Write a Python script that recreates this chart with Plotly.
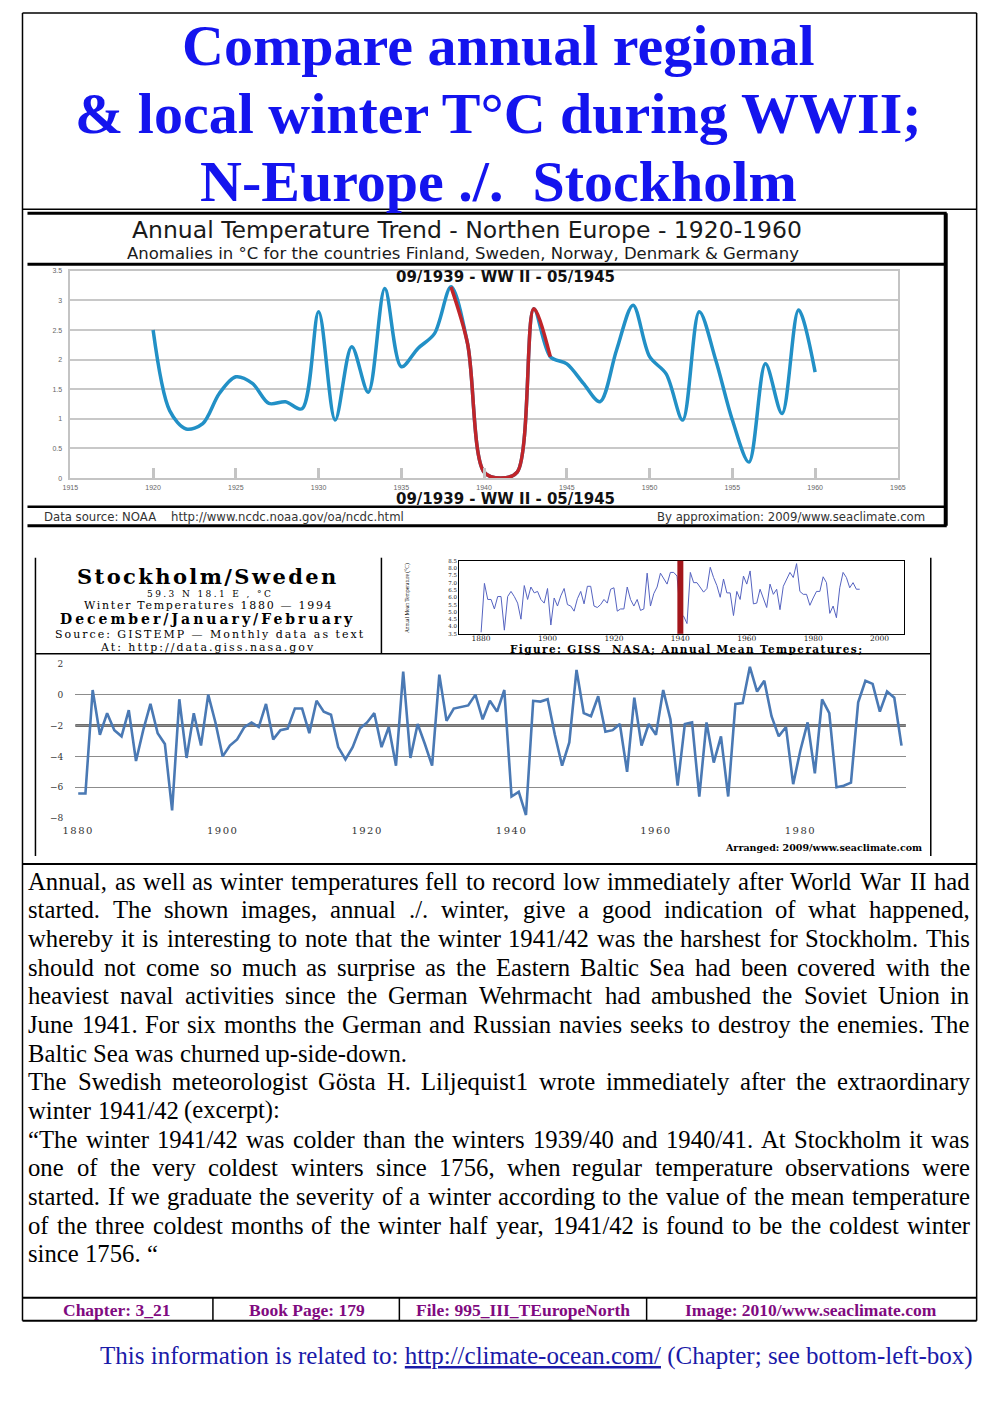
import plotly.graph_objects as go

# ---------------- data ----------------
ne_years = list(range(1920, 1961))
ne_anomaly = [2.50, 1.14, 0.83, 0.92, 1.43, 1.71, 1.60, 1.26, 1.29, 1.17,
              2.81, 0.98, 2.22, 1.45, 3.20, 1.88, 2.19, 2.44, 3.23, 2.27,
              0.10, 0.00, 0.10, 2.86, 2.05, 1.93, 1.60, 1.29, 2.16, 2.92,
              2.05, 1.76, 0.98, 2.81, 1.99, 0.98, 0.27, 1.93, 1.09, 2.84,
              1.79]
ww2_from, ww2_to = 1938, 1944
ne_xticks = list(range(1915, 1970, 5))
ne_yticks = [0, 0.5, 1, 1.5, 2, 2.5, 3, 3.5]
ne_ylabels = ["0", "0.5", "1", "1.5", "2", "2.5", "3", "3.5"]

giss_years = list(range(1880, 1995))
giss_annual = [3.6, 6.95, 5.85, 5.85, 5.2, 6.05, 6.05, 3.75, 6.05, 6.4,
               6.05, 5.6, 4.5, 6.8, 5.85, 6.7, 6.3, 6.4, 5.85, 5.6,
               6.6, 4.1, 5.95, 5.4, 6.1, 6.6, 5.5, 5.4, 5.05, 5.9,
               6.4, 5.55, 6.75, 6.75, 5.4, 5.3, 5.5, 5.85, 5.6, 6.55,
               6.65, 5.05, 5.2, 5.2, 6.7, 5.85, 5.4, 5.85, 5.1, 5.2,
               7.65, 5.4, 6.25, 6.7, 7.65, 7.25, 6.9, 7.7, 7.7, 7.45,
               4.8, 4.7, 4.2, 7.7, 7.0, 7.0, 6.65, 6.35, 6.6, 8.05,
               7.35, 6.8, 6.0, 7.25, 6.3, 6.3, 4.75, 6.4, 5.85, 7.45,
               6.9, 7.8, 5.55, 5.6, 6.55, 5.95, 5.3, 6.9, 6.2, 6.55,
               5.15, 6.75, 7.25, 7.7, 7.35, 8.3, 6.4, 6.2, 6.2, 5.45,
               5.95, 6.4, 6.4, 7.4, 7.0, 4.9, 5.4, 4.6, 6.65, 7.7,
               7.35, 6.65, 7.0, 6.55, 6.55]
giss_mark_year = 1940
giss_xticks = [1880, 1900, 1920, 1940, 1960, 1980, 2000]
giss_yticks = [3.5, 4.0, 4.5, 5.0, 5.5, 6.0, 6.5, 7.0, 7.5, 8.0, 8.5]

winter_years = list(range(1880, 1995))
winter_temp = [-6.4, -6.4, 0.3, -2.6, -1.2, -2.3, -2.7, -1.0, -4.3, -2.3,
               -0.6, -2.5, -3.2, -7.5, -0.3, -4.1, -1.2, -3.3, 0.0, -1.8,
               -4.0, -3.3, -2.9, -2.1, -1.8, -2.1, -0.6, -2.9, -2.3, -2.2,
               -0.9, -0.9, -2.5, -0.4, -1.1, -1.3, -3.4, -4.2, -3.4, -2.2,
               -1.8, -1.2, -3.4, -2.1, -4.6, 1.5, -4.1, -1.9, -3.2, -4.6,
               1.3, -1.7, -0.9, -0.8, -0.7, 0.0, -1.6, -0.4, -1.1, 0.3,
               -6.6, -6.3, -7.8, -0.4, -0.45, -0.3, -2.6, -4.6, -3.1, 1.6,
               -1.2, -1.4, -0.1, -2.4, -2.3, -1.9, -5.0, -0.2, -3.3, -1.9,
               -2.6, 0.3, -1.6, -5.9, -1.9, -1.8, -6.6, -1.8, -4.4, -2.7,
               -6.6, -0.6, -0.55, 1.8, 0.2, 0.9, -1.4, -2.7, -2.1, -5.8,
               -3.6, -1.8, -5.1, -0.3, -1.2, -6.0, -5.9, -5.7, -0.5, 0.9,
               0.7, -1.1, 0.2, -0.2, -3.3]
winter_mean_line = -2
winter_xticks = [1880, 1900, 1920, 1940, 1960, 1980]
winter_yticks = [2, 0, -2, -4, -6, -8]

title_lines = ["Compare annual regional",
               "& local winter T°C during WWII;",
               "N-Europe ./.\u00a0 Stockholm"]

paragraph = [
    ("Annual, as well as winter temperatures fell to record low immediately after World War II had", True),
    ("started. The shown images, annual ./. winter, give a good indication of what happened,", True),
    ("whereby it is interesting to note that the winter 1941/42 was the harshest for Stockholm. This", True),
    ("should not come so much as surprise as the Eastern Baltic Sea had been covered with the", True),
    ("heaviest naval activities since the German Wehrmacht had ambushed the Soviet Union in", True),
    ("June 1941. For six months the German and Russian navies seeks to destroy the enemies. The", True),
    ("Baltic Sea was churned up-side-down.", False),
    ("The Swedish meteorologist Gösta H. Liljequist1 wrote immediately after the extraordinary", True),
    ("winter 1941/42 (excerpt):", False),
    ("“The winter 1941/42 was colder than the winters 1939/40 and 1940/41. At Stockholm it was", True),
    ("one of the very coldest winters since 1756, when regular temperature observations were", True),
    ("started. If we graduate the severity of a winter according to the value of the mean temperature", True),
    ("of the three coldest months of the winter half year, 1941/42 is found to be the coldest winter", True),
    ("since 1756. “", False),
]

footer_cells = ["Chapter: 3_21", "Book Page: 179", "File: 995_III_TEuropeNorth",
                "Image: 2010/www.seaclimate.com"]

# ---------------- helpers ----------------
W, H = 1003, 1403
# observed placement of the figure canvas inside the photographed window
OX, OY, SX, SY = 17.5, 12.0, 0.982, 0.993


def px(x):
    return ((x - OX) / SX) / W


def py(y):
    return 1 - ((y - OY) / SY) / H


TIMES = {' ': 250, '!': 333, '&': 778, "'": 333, '(': 333, ')': 333, ',': 250,
         '-': 333, '.': 250, '/': 278, ':': 278, ';': 278, '?': 444,
         'A': 722, 'B': 667, 'C': 667, 'D': 722, 'E': 611, 'F': 556, 'G': 722,
         'H': 722, 'I': 333, 'J': 389, 'K': 722, 'L': 611, 'M': 889, 'N': 722,
         'O': 722, 'P': 556, 'Q': 722, 'R': 667, 'S': 556, 'T': 611, 'U': 722,
         'V': 722, 'W': 944, 'X': 722, 'Y': 722, 'Z': 611,
         'a': 444, 'b': 500, 'c': 444, 'd': 500, 'e': 444, 'f': 333, 'g': 500,
         'h': 500, 'i': 278, 'j': 278, 'k': 500, 'l': 278, 'm': 778, 'n': 500,
         'o': 500, 'p': 500, 'q': 500, 'r': 333, 's': 389, 't': 278, 'u': 500,
         'v': 500, 'w': 722, 'x': 500, 'y': 500, 'z': 444,
         '“': 444, '”': 444, 'ö': 500, '°': 400}


def tw(s):
    return sum(TIMES.get(c, 500) for c in s) / 1000.0


SERIF = "Liberation Serif"
SANS = "DejaVu Sans"
WIDE = "DejaVu Serif"

annotations = []
shapes = []


def spaced(text, ls):
    return '<span style="letter-spacing:%.1fpx">%s</span>' % (ls, text)


def ann(text, x, y, size, family, color="#000000", xanchor="center",
        yanchor="middle", angle=0):
    annotations.append(dict(text=text, x=px(x), y=py(y), xref="paper", yref="paper",
                            showarrow=False, xanchor=xanchor, yanchor=yanchor,
                            textangle=angle, borderpad=0,
                            font=dict(size=size, family=family, color=color)))


def hline(y, x0, x1, w=1.5, color="#000000"):
    shapes.append(dict(type="line", xref="paper", yref="paper", x0=px(x0), x1=px(x1),
                       y0=py(y), y1=py(y), line=dict(color=color, width=w)))


def vline(x, y0, y1, w=1.5, color="#000000"):
    shapes.append(dict(type="line", xref="paper", yref="paper", x0=px(x), x1=px(x),
                       y0=py(y0), y1=py(y1), line=dict(color=color, width=w)))


# ---------------- page frame ----------------
hline(13, 19, 976)
vline(19, 13, 1319)
vline(976, 13, 1319)
hline(209, 19, 976)
hline(863, 19, 976, 2)
hline(1296, 19, 976, 2)
hline(1319, 19, 976, 2)
for xd in [210, 397, 645]:
    vline(xd, 1296, 1319)

# title
for i, t in enumerate(title_lines):
    ann("<b>%s</b>" % t, 496, 45 + i * 68, 58, SERIF, "#1414ee")

# ---------------- top chart decorations ----------------
hline(213, 24, 946, 3)
hline(264, 24, 946, 3)
hline(506, 24, 946, 2.5)
hline(525, 24, 946, 3)
vline(945, 213, 525, 4)
ann("Annual Temperature Trend - Northen Europe - 1920-1960", 465, 230, 23.5, SANS, "#1a1a1a")
ann("Anomalies in °C for the countries Finland, Sweden, Norway, Denmark &amp; Germany",
    461, 253, 16.5, SANS, "#1a1a1a")
ann("<b>09/1939 - WW II - 05/1945</b>", 503, 277, 15, SANS, "#111111")
ann("<b>09/1939 - WW II - 05/1945</b>", 503, 498, 15, SANS, "#111111")
ann("Data source: NOAA\u00a0\u00a0\u00a0 http://www.ncdc.noaa.gov/oa/ncdc.html", 40, 516, 11.7,
    SANS, "#333333", xanchor="left")
ann("By approximation: 2009/www.seaclimate.com", 925, 516, 11.7, SANS, "#333333",
    xanchor="right")

# ---------------- Stockholm box ----------------
vline(32, 557, 855)
vline(379, 557, 653)
hline(653, 32, 930)
vline(930, 557, 855)
ann("<b>%s</b>" % spaced("Stockholm/Sweden", 2.4), 205, 575.5, 21, WIDE)
ann(spaced("59.3 N 18.1 E , °C", 2.4), 207, 593, 9, WIDE)
ann(spaced("Winter Temperatures 1880 — 1994", 1.7), 206, 605, 11, WIDE)
ann("<b>%s</b>" % spaced("December/January/February", 3.0), 205, 618.5, 14, WIDE)
ann(spaced("Source: GISTEMP — Monthly data as text", 2.0), 207, 633.5, 11, WIDE)
ann(spaced("At: http://data.giss.nasa.gov", 2.0), 205, 646.5, 11, WIDE)
ann("Annual Mean Temperature (°C)", 405, 597, 5.5, SERIF, angle=-90)
ann("<b>%s</b>" % spaced("Figure: GISS\u00a0 NASA; Annual Mean Temperatures;", 1.4),
    685, 648.5, 10.5, WIDE)
ann("<b>Arranged: 2009/www.seaclimate.com</b>", 922, 846, 9.5, WIDE, xanchor="right")

# ---------------- paragraph (justified) ----------------
FS = 24.7
X0, X1 = 24, 968
for i, (line, just) in enumerate(paragraph):
    y = 880 + i * 28.62
    words = line.split(" ")
    widths = [tw(w) * FS for w in words]
    if just and len(words) > 1:
        gap = (X1 - X0 - sum(widths)) / (len(words) - 1)
    else:
        gap = 0.25 * FS
    x = X0
    for w, wd in zip(words, widths):
        ann(w, x, y, FS, SERIF, xanchor="left")
        x += wd + gap

# ---------------- footer ----------------
centers = [113, 304, 521, 810]
for c, t in zip(centers, footer_cells):
    ann("<b>%s</b>" % t, c, 1308, 17.5, SERIF, "#800a80")

ann('This information is related to: <span style="text-decoration:underline">'
    'http://climate-ocean.com/</span> (Chapter; see bottom-left-box)',
    96, 1354, 25, SERIF, "#1a1aa8", xanchor="left")

# ---------------- traces ----------------
fig = go.Figure()
fig.add_trace(go.Scatter(x=ne_years, y=ne_anomaly, mode="lines", xaxis="x", yaxis="y",
                         line=dict(color="#2290c6", width=3.5, shape="spline", smoothing=0.9),
                         showlegend=False))
red_x = [yr for yr in ne_years if ww2_from <= yr <= ww2_to]
red_y = [v for yr, v in zip(ne_years, ne_anomaly) if ww2_from <= yr <= ww2_to]
fig.add_trace(go.Scatter(x=red_x, y=red_y, mode="lines", xaxis="x", yaxis="y",
                         line=dict(color="#c0252a", width=3.5, shape="spline", smoothing=0.9),
                         showlegend=False))
fig.add_trace(go.Scatter(x=giss_years, y=giss_annual, mode="lines", xaxis="x2", yaxis="y2",
                         line=dict(color="#5563c0", width=1), showlegend=False))
fig.add_trace(go.Scatter(x=winter_years, y=winter_temp, mode="lines", xaxis="x3", yaxis="y3",
                         line=dict(color="#4a79b4", width=2.6), showlegend=False))

shapes.append(dict(type="rect", xref="x2", yref="y2 domain", x0=giss_mark_year - 0.9,
                   x1=giss_mark_year + 0.9, y0=0, y1=1, fillcolor="#a3161b",
                   line=dict(width=0), layer="above"))
shapes.append(dict(type="line", xref="x3 domain", yref="y3", x0=0, x1=1,
                   y0=winter_mean_line, y1=winter_mean_line,
                   line=dict(color="#3f3f3f", width=2.5), layer="below"))

fig.update_layout(
    width=W, height=H, margin=dict(l=0, r=0, t=0, b=0),
    paper_bgcolor="white", plot_bgcolor="white",
    annotations=annotations, shapes=shapes,
    xaxis=dict(domain=[px(67), px(897)], anchor="y", range=[1915, 1965],
               tickvals=ne_xticks, ticks="inside", ticklen=10, tickwidth=3,
               tickcolor="#c4c4c4", showgrid=False, zeroline=False,
               showline=True, mirror=True, linecolor="#c4c4c4", linewidth=1.5,
               ticklabelstandoff=2,
               tickfont=dict(size=7, family="Liberation Sans", color="#666666")),
    yaxis=dict(domain=[py(477.5), py(270.5)], anchor="x", range=[0, 3.5],
               tickvals=ne_yticks, ticktext=ne_ylabels, showgrid=True,
               gridcolor="#c8c8c8", gridwidth=2, zeroline=False,
               showline=True, mirror=True, linecolor="#c4c4c4", linewidth=1.5,
               ticklabelstandoff=5,
               tickfont=dict(size=7, family="Liberation Sans", color="#666666")),
    xaxis2=dict(domain=[px(457), px(903)], anchor="y2", range=[1873.4, 2007.3],
                tickvals=giss_xticks, ticks="", showgrid=False, zeroline=False,
                showline=True, mirror=True, linecolor="#000000", linewidth=1,
                ticklabelstandoff=-3,
                tickfont=dict(size=7.5, family=WIDE, color="#222222")),
    yaxis2=dict(domain=[py(633), py(560)], anchor="x2", range=[3.5, 8.5],
                tickvals=giss_yticks, tickformat=".1f", ticks="", showgrid=False,
                zeroline=False, showline=True, mirror=True, linecolor="#000000",
                linewidth=1, tickfont=dict(size=5.5, family=WIDE, color="#222222")),
    xaxis3=dict(domain=[px(72), px(905)], anchor="y3", range=[1879.6, 1994.6],
                tickvals=winter_xticks,
                ticktext=[spaced(str(t), 1.5) for t in winter_xticks],
                ticks="", showgrid=False, zeroline=False, showline=False,
                ticklabelstandoff=4,
                tickfont=dict(size=10, family=WIDE, color="#333333")),
    yaxis3=dict(domain=[py(818), py(662)], anchor="x3", range=[-8.06, 2.06],
                tickvals=winter_yticks, ticks="", showgrid=True, gridcolor="#8c8c8c",
                gridwidth=1, zeroline=False, showline=False, ticklabelstandoff=11,
                tickfont=dict(size=9, family=WIDE, color="#333333")),
)

fig.write_html("out.html")
